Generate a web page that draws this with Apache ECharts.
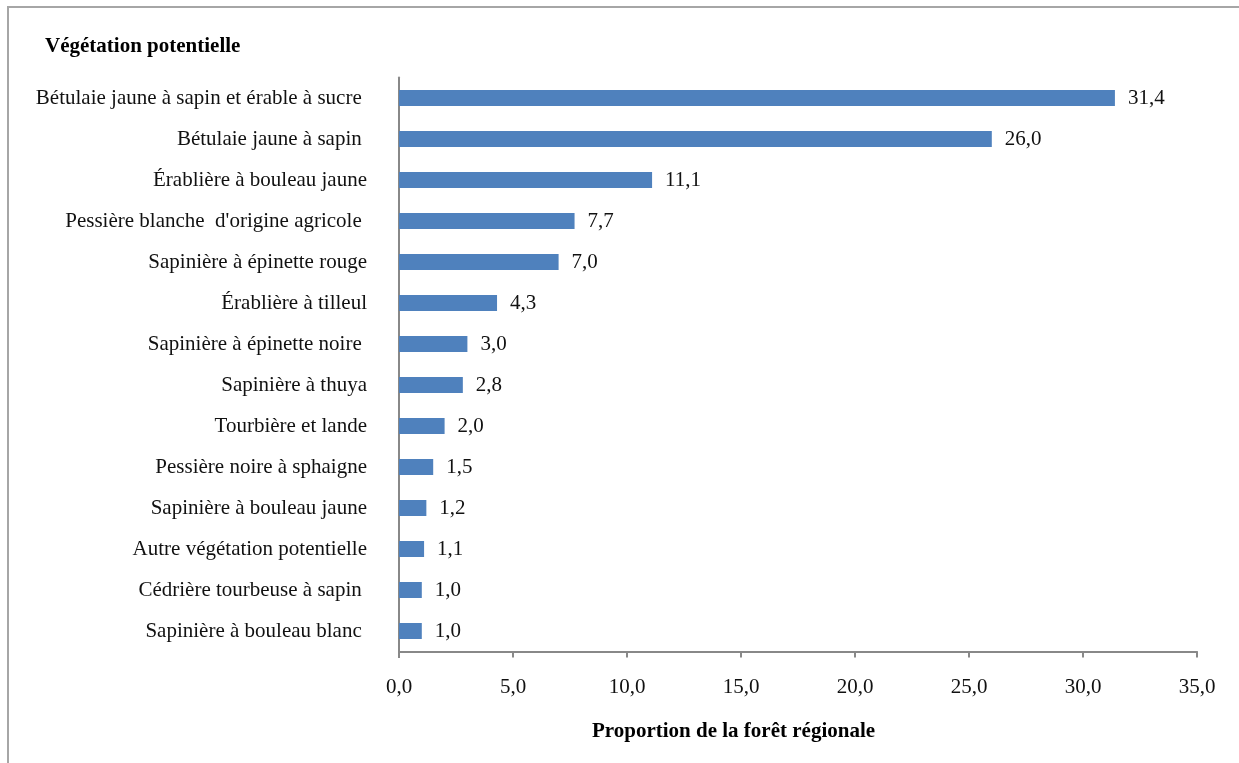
<!DOCTYPE html>
<html>
<head>
<meta charset="utf-8">
<script src="https://cdn.jsdelivr.net/npm/echarts@6/dist/echarts.min.js"></script>
<style>
html,body{margin:0;padding:0;background:#fff;}
#chart{width:1239px;height:763px;}
</style>
</head>
<body>
<div id="chart"></div>
<script>
const categories = [
  "Bétulaie jaune à sapin et érable à sucre ",
  "Bétulaie jaune à sapin ",
  "Érablière à bouleau jaune",
  "Pessière blanche  d'origine agricole ",
  "Sapinière à épinette rouge",
  "Érablière à tilleul",
  "Sapinière à épinette noire ",
  "Sapinière à thuya",
  "Tourbière et lande",
  "Pessière noire à sphaigne",
  "Sapinière à bouleau jaune",
  "Autre végétation potentielle",
  "Cédrière tourbeuse à sapin ",
  "Sapinière à bouleau blanc "
];
const values = [31.4, 26.0, 11.1, 7.7, 7.0, 4.3, 3.0, 2.8, 2.0, 1.5, 1.2, 1.1, 1.0, 1.0];
const chartTitle = "Végétation potentielle";
const axisTitle = "Proportion de la forêt régionale";

const FONT = "'Liberation Serif', 'DejaVu Serif', serif";
const FS = 21;
const fmt = v => v.toFixed(1).replace('.', ',');

const chart = echarts.init(document.getElementById('chart'), null, {renderer: 'canvas'});
chart.setOption({
  animation: false,
  backgroundColor: '#fff',
  textStyle: {fontFamily: FONT},
  title: [
    {text: chartTitle, left: 40, top: 31,
     textStyle: {fontFamily: FONT, fontSize: FS, fontWeight: 'bold', color: '#000'}},
    {text: axisTitle, left: 587, top: 716,
     textStyle: {fontFamily: FONT, fontSize: FS, fontWeight: 'bold', color: '#000'}}
  ],
  graphic: [
    {type: 'rect', shape: {x: 8, y: 7, width: 1400, height: 900}, z: -1,
     style: {fill: 'none', stroke: '#a6a6a6', lineWidth: 2}},
    {type: 'line', shape: {x1: 399, y1: 651, x2: 399, y2: 658},
     style: {stroke: '#888', lineWidth: 2}}
  ],
  grid: {left: 399, right: 42, top: 77.5, bottom: 111.5, containLabel: false},
  xAxis: {
    type: 'value', min: 0, max: 35, interval: 5,
    axisLine: {show: true, lineStyle: {color: '#888', width: 2}},
    axisTick: {show: true, length: 6, lineStyle: {color: '#888', width: 2}},
    splitLine: {show: false},
    axisLabel: {fontFamily: FONT, fontSize: FS, color: '#111', margin: 25, formatter: v => fmt(v)}
  },
  yAxis: {
    type: 'category', data: categories, inverse: true,
    axisLine: {show: true, lineStyle: {color: '#888', width: 2}},
    axisTick: {show: false},
    axisLabel: {fontFamily: FONT, fontSize: FS, color: '#111', margin: 32}
  },
  series: [{
    type: 'bar', data: values, barWidth: 16,
    itemStyle: {color: '#4F81BD'},
    label: {show: true, position: 'right', distance: 13, fontFamily: FONT, fontSize: FS, color: '#111',
            formatter: p => fmt(p.value)}
  }]
});
</script>
</body>
</html>
